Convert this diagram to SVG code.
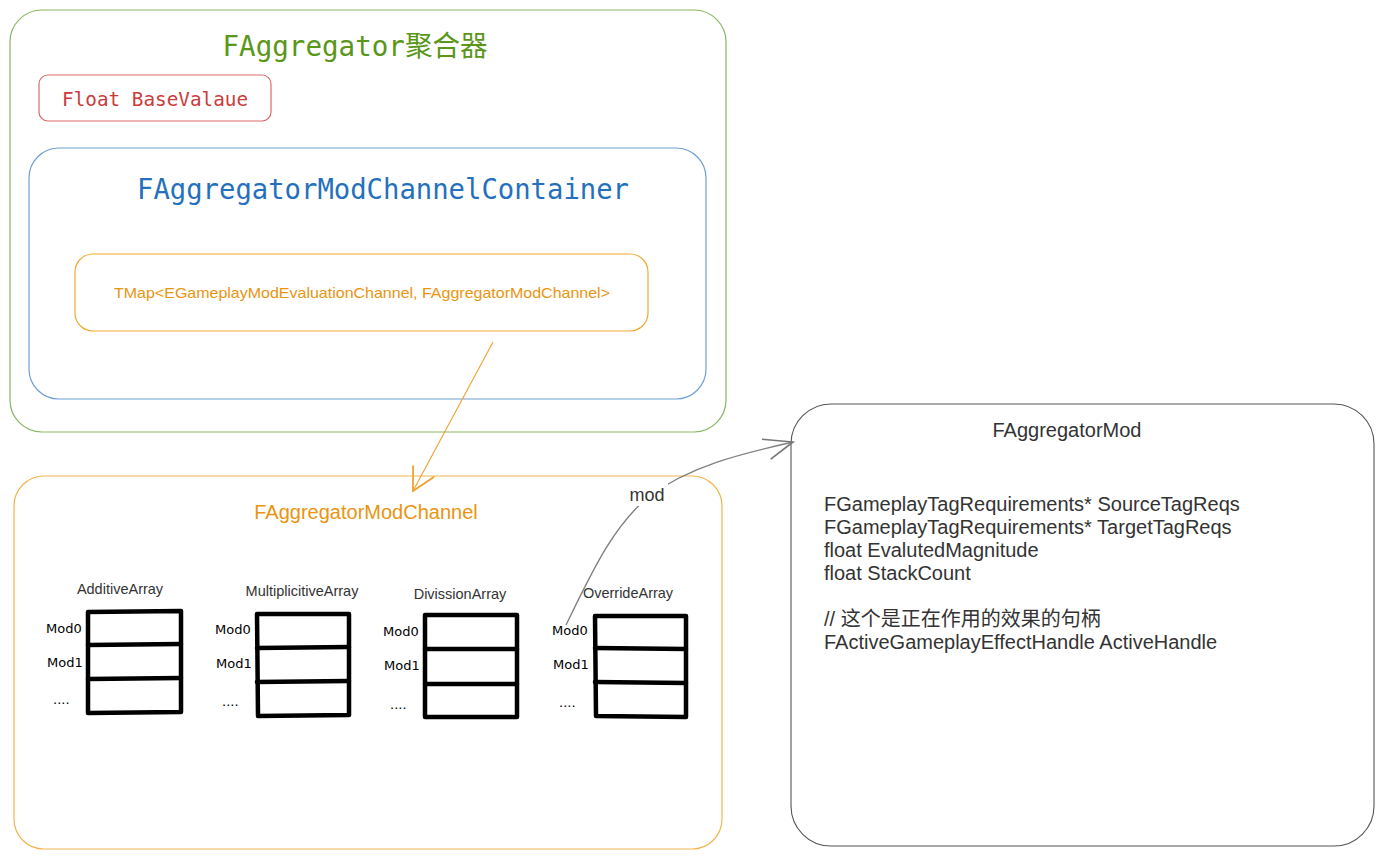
<svg xmlns="http://www.w3.org/2000/svg" width="1383" height="859" viewBox="0 0 1383 859">
<defs>
<style>
.mono{font-family:"DejaVu Sans Mono","Liberation Mono","Noto Sans CJK SC",monospace;}
.sans{font-family:"Liberation Sans",Arial,"Noto Sans CJK SC",sans-serif;}
.arrlbl{font-family:"Liberation Sans",Arial,sans-serif;font-size:14.5px;fill:#333;text-anchor:middle;}
.modlbl{font-family:"DejaVu Sans","Liberation Sans",sans-serif;font-size:13px;fill:#000;}
.grid{fill:#fff;stroke:#000;stroke-width:4.5;stroke-linejoin:round;stroke-linecap:round;}
.gl{fill:none;stroke:#000;stroke-width:4.5;stroke-linecap:round;}
.field{font-family:"Liberation Sans",Arial,"Noto Sans CJK SC",sans-serif;font-size:20px;fill:#333;}
</style>
<marker id="openOrange" markerWidth="30" markerHeight="30" refX="0" refY="0" viewBox="-16 -10 18 20" orient="auto" markerUnits="userSpaceOnUse">
<path d="M-15,-8 L0,0 L-15,8" fill="none" stroke="#f0a030" stroke-width="1.2"/>
</marker>
<marker id="openGray" markerWidth="34" markerHeight="34" refX="0" refY="0" viewBox="-30 -12 32 24" orient="auto" markerUnits="userSpaceOnUse">
<path d="M-28,-9 L0,0 L-24,11" fill="none" stroke="#777" stroke-width="1.5"/>
</marker>
</defs>
<rect width="1383" height="859" fill="#fff"/>

<g id="aggregator">
<rect x="10" y="10" width="716" height="422" rx="32" fill="none" stroke="#8ab561" stroke-width="1.2"/>
<text x="355" y="56" class="mono" font-size="28" fill="#5a9618" text-anchor="middle" textLength="265" lengthAdjust="spacingAndGlyphs">FAggregator聚合器</text>
</g>

<g id="basevalue">
<rect x="39" y="75" width="232" height="46" rx="9" fill="none" stroke="#e06a6a" stroke-width="1.2"/>
<text x="155" y="106" class="mono" font-size="20" fill="#cc3b3b" text-anchor="middle" textLength="186" lengthAdjust="spacingAndGlyphs">Float BaseValaue</text>
</g>

<g id="container">
<rect x="29" y="148" width="677" height="251" rx="30" fill="none" stroke="#6f9fd3" stroke-width="1.2"/>
<text x="383" y="199" class="mono" font-size="28" fill="#2570bd" text-anchor="middle" textLength="492" lengthAdjust="spacingAndGlyphs">FAggregatorModChannelContainer</text>
</g>

<g id="tmap">
<rect x="75" y="254" width="573" height="77" rx="18" fill="none" stroke="#f0a830" stroke-width="1.2"/>
<text x="362" y="298" class="sans" font-size="15" fill="#ea9410" text-anchor="middle" textLength="496" lengthAdjust="spacingAndGlyphs">TMap&lt;EGameplayModEvaluationChannel, FAggregatorModChannel&gt;</text>
</g>

<g id="channel">
<rect x="14" y="476" width="708" height="373" rx="30" fill="none" stroke="#f2b54f" stroke-width="1.2"/>
<text x="366" y="519" class="sans" font-size="20" fill="#ea9410" text-anchor="middle">FAggregatorModChannel</text>
</g>

<g id="additive">
<text x="120" y="594" class="arrlbl">AdditiveArray</text>
<path class="grid" d="M88,612 L181,611 L181,712 L88,713 Z"/>
<path class="gl" d="M88,645 L181,644 M88,679 L181,678"/>
<text x="46" y="633" class="modlbl">Mod0</text>
<text x="47" y="667" class="modlbl">Mod1</text>
<text x="53" y="704" class="modlbl">....</text>
</g>

<g id="multiplicitive">
<text x="302" y="596" class="arrlbl">MultiplicitiveArray</text>
<path class="grid" d="M257,614 L349,614 L349,715 L258,716 Z"/>
<path class="gl" d="M257,648 L349,647 M257,682 L349,681"/>
<text x="215" y="634" class="modlbl">Mod0</text>
<text x="216" y="668" class="modlbl">Mod1</text>
<text x="222" y="706" class="modlbl">....</text>
</g>

<g id="divission">
<text x="460" y="599" class="arrlbl">DivissionArray</text>
<path class="grid" d="M425,615 L517,615 L517,717 L425,717 Z"/>
<path class="gl" d="M425,649 L517,649 M425,684 L517,684"/>
<text x="383" y="636" class="modlbl">Mod0</text>
<text x="384" y="670" class="modlbl">Mod1</text>
<text x="390" y="709" class="modlbl">....</text>
</g>

<g id="override">
<text x="628" y="598" class="arrlbl">OverrideArray</text>
<path class="grid" d="M595,616 L686,616 L686,717 L596,716 Z"/>
<path class="gl" d="M595,648 L686,649 M595,682 L686,683"/>
<text x="552" y="635" class="modlbl">Mod0</text>
<text x="553" y="669" class="modlbl">Mod1</text>
<text x="559" y="707" class="modlbl">....</text>
</g>

<g id="aggregatormod">
<rect x="791" y="404" width="583" height="442" rx="40" fill="none" stroke="#555" stroke-width="1.1"/>
<text x="1067" y="437" class="sans" font-size="20" fill="#333" text-anchor="middle">FAggregatorMod</text>
<text x="824" y="511" class="field">FGameplayTagRequirements* SourceTagReqs</text>
<text x="824" y="534" class="field">FGameplayTagRequirements* TargetTagReqs</text>
<text x="824" y="557" class="field">float EvalutedMagnitude</text>
<text x="824" y="580" class="field">float StackCount</text>
<text x="824" y="626" class="field">// 这个是正在作用的效果的句柄</text>
<text x="824" y="649" class="field">FActiveGameplayEffectHandle ActiveHandle</text>
</g>

<g id="connectors">
<path d="M493,342 L413,491" fill="none" stroke="#f0a030" stroke-width="1.1" marker-end="url(#openOrange)"/>
<path d="M566,625 C592,572 612,528 648,497 C690,466 740,454 793,442" fill="none" stroke="#808080" stroke-width="1.4" marker-end="url(#openGray)"/>
<rect x="626" y="482" width="42" height="24" fill="#fff"/>
<text x="647" y="501" class="sans" font-size="18" fill="#333" text-anchor="middle">mod</text>
</g>
</svg>
